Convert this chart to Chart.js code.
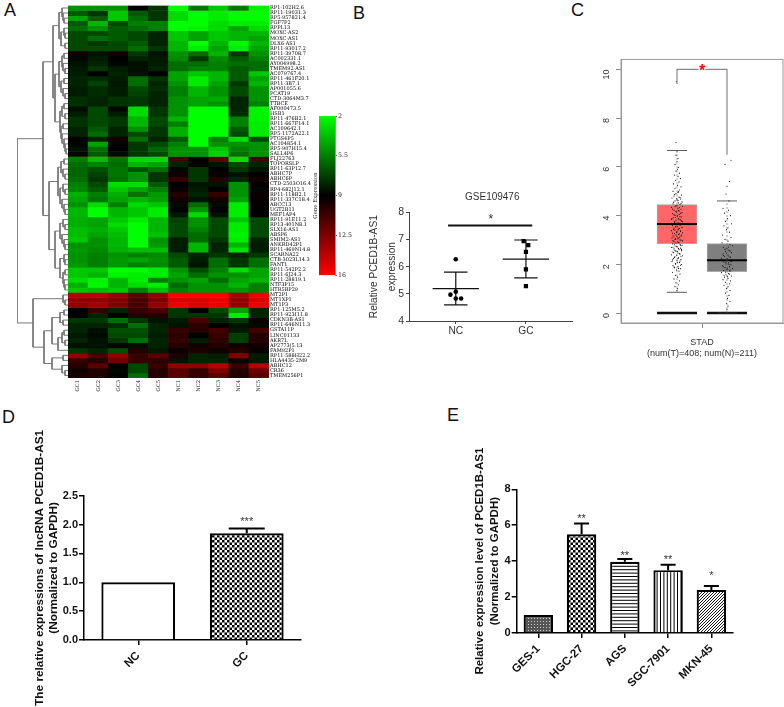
<!DOCTYPE html>
<html>
<head>
<meta charset="utf-8">
<script src="https://cdn.jsdelivr.net/npm/chart.js@4"></script>
<style>
  html, body { margin: 0; padding: 0; background: #fff; }
  body { position: relative; width: 784px; height: 707px; overflow: hidden; }
  canvas { position: absolute; }
  .letra { position: absolute; font: 18px/18px "Liberation Sans", sans-serif; color: #111; }
</style>
</head>
<body>
<div class="letra" style="left:4px;top:1px">A</div>
<div class="letra" style="left:353px;top:4px">B</div>
<div class="letra" style="left:571px;top:1px">C</div>
<div class="letra" style="left:2px;top:408px">D</div>
<div class="letra" style="left:447px;top:406px">E</div>
<script>
// panel A
const sampleLabels = ['GC1', 'GC2', 'GC3', 'GC4', 'GC5', 'NC1', 'NC2', 'NC3', 'NC4', 'NC5'];
const geneLabels = ['RP1-102H2.6', 'RP11-19031.3', 'RP5-957821.4', 'FGF7P2', 'RPPL13', 'MOXC-AS2', 'MOXC-AS1', 'DLX6-AS1',
  'RP11-93017.2', 'RP11-39708.7', 'AC002331.1', 'AY004998.2', 'TMEM92-AS1', 'AC079767.4', 'RP11-461F20.1', 'RP11-3B7.1',
  'AP001055.6', 'PCAT19', 'CTD-3064M3.7', 'TTBCE', 'AF000473.5', 'HSB1', 'RP11-476B2.1', 'RP11-667F14.1', 'AC109642.1',
  'RP5-1172A22.1', 'PTGS4P5', 'AC104854.1', 'RP5-907H15.4', 'SALL4P6', 'FLJ22763', 'TOPORSLP', 'RP11-63P12.7', 'ABHC7P',
  'ABHC6P', 'CTD-2503O16.4', 'RP4-682J12.1', 'RP11-118B2.1', 'RP11-337C18.4', 'ABCC13', 'UGT2B11', 'MEF1AP4',
  'RP11-91E11.2', 'RP13-401N8.1', 'SLX16-AS1', 'ABSP6', 'SMIM2-AS1', 'ANKRD42P1', 'RP11-469N14.8', 'SCARNA22',
  'CTB-3023L14.3', 'FANT1', 'RP11-542P2.2', 'RP11-6J24.3', 'RP11-28819.1', 'NTF3P15', 'HTR5BP29', 'MT2P1', 'MT1XP1',
  'MT1P3', 'RP1-125M5.2', 'RP11-923I11.8', 'CDKN3B-AS1', 'RP11-646N11.3', 'GSTA11P', 'LINC01133', 'AKR7L', 'AP2773|5.13',
  'FAM92P1', 'RP11-588H22.2', 'HLA4435-2M9', 'ABHC12', 'CR36', 'TMEM256P1'];
const expressionRows = [
  [5, 5, 5, 9, 7.6, 2, 5.7, 3.5, 5.7, 2.4], [6.5, 7.5, 3.5, 6.5, 7.5, 3, 2, 2.5, 2, 2], [4.5, 6.5, 3.5, 6, 7.5, 3, 2, 2.5, 2, 2],
  [6.5, 4, 7, 5.5, 5.5, 2, 2, 3, 2.5, 2.5], [6, 5, 6.5, 6, 5.5, 2, 2.3, 3, 4.5, 3], [7, 7, 6.5, 7, 8, 3.5, 4.5, 3.5, 4, 4],
  [7, 6, 6.5, 7, 8, 3.5, 4.5, 3.5, 4, 4.5], [7, 7.5, 7, 6.5, 8, 4, 2, 4, 2.2, 4], [7, 7, 7, 6, 7.5, 4, 2.5, 4.5, 2.5, 4.5],
  [9.5, 8.5, 9.6, 7.5, 8.5, 5, 6, 4, 7.5, 5], [8.8, 8.2, 9, 8, 8.3, 5.2, 7.5, 5.2, 6.5, 5.5], [8.5, 8, 8.8, 8.6, 8.2, 6, 6, 5.5, 6, 6],
  [8.3, 7.5, 8.2, 8.6, 8, 6, 5.5, 5.5, 6.5, 6], [8.2, 9, 8, 8.5, 9, 4.5, 3.5, 4, 6.5, 3.5], [8, 7.8, 8.2, 6, 7.6, 4.5, 2.5, 4, 6.5, 4.5],
  [8, 7.2, 8.3, 6, 8, 5, 2.5, 4.5, 7.5, 4], [8.2, 7.8, 8.2, 7, 7.8, 5.5, 4, 5, 7, 5], [8.2, 7.8, 8.2, 7.2, 8, 5.5, 4, 5, 7, 5],
  [7.7, 8, 7.6, 7.5, 8, 5, 4.5, 4.3, 8, 5], [7.7, 8, 7.6, 7.5, 8, 5, 4.5, 5, 8, 5.5], [8.6, 7, 8.8, 3, 7.5, 5, 2, 2, 8, 2.3],
  [8.2, 7, 8.2, 3, 7.5, 5, 2, 2, 7.8, 2.3], [7.6, 7, 7.5, 4, 7, 4, 2, 2, 5.5, 2.3], [7.6, 7, 7.5, 4, 7, 5.5, 2, 2, 5.5, 2.5],
  [8, 6.5, 8, 5, 7.5, 4.2, 2, 2, 6.5, 2.5], [8, 6, 8, 7, 7.5, 4.2, 2, 2, 7, 2.5], [9.2, 8, 9.5, 6, 8, 6.5, 2, 5.5, 3, 7],
  [8.8, 4.5, 9, 7.5, 7, 5.5, 2, 5, 5, 5], [8.5, 6, 9, 7.5, 6.2, 5, 5, 3.5, 5.5, 5], [8.8, 6.5, 8.7, 7.5, 7, 5, 5, 3.2, 6, 5],
  [5.5, 3.8, 5.8, 3, 3, 11, 9, 11.5, 3, 11], [6, 5.5, 6, 4, 4.5, 8, 9, 8.5, 7, 8], [6.2, 6.8, 5.8, 6.8, 6, 8.8, 7.5, 9, 7.5, 8.5],
  [6.2, 7.2, 5.8, 5, 7.5, 9.5, 7.5, 9.3, 8.5, 9], [6, 7.5, 6, 5, 7.5, 10.5, 7.5, 10, 8, 9.5], [5.5, 7, 3, 3, 6.5, 9, 8.5, 8.5, 5, 9],
  [5.3, 6.5, 3.5, 4.5, 5.5, 9.3, 8.2, 9, 5, 8.8], [4.2, 5.5, 4.2, 5.8, 4.8, 10, 8, 10.5, 5, 9.3], [4.5, 5.8, 4.5, 4, 4.6, 9.5, 8.5, 9.5, 4.5, 9.2],
  [5, 3, 5.5, 3, 3.5, 8.7, 6, 8.7, 2.5, 9], [4, 2, 4, 3.5, 2.5, 9, 5, 9, 2.5, 9], [4, 2, 4, 3.5, 2.5, 8.3, 3, 8.5, 2.5, 9],
  [4.2, 4.5, 3.5, 2.5, 4, 7.2, 5, 7, 3.5, 7], [4.2, 4.5, 3, 2, 4, 7, 5, 7, 2.5, 7], [3.8, 4.2, 3.5, 2, 4, 7, 5.5, 7, 2.5, 7],
  [3.8, 4.5, 3.8, 2, 3.7, 7, 6, 7, 2.3, 7], [3.5, 5, 4, 2, 5, 8.2, 6, 7.5, 2.5, 8], [5, 5, 4, 2, 4.8, 8.2, 4, 8, 4, 8.2],
  [4.8, 5.2, 4.2, 3.8, 3.8, 8.2, 4, 8, 2.8, 8.2], [5, 5.5, 5, 5.5, 5.2, 7, 8, 7.5, 8, 7.5], [5, 5.5, 4.8, 4.5, 5, 6.5, 8.2, 6, 7.5, 6],
  [4.8, 5.5, 4.8, 5.5, 5.2, 6.5, 8.5, 6, 7.5, 6], [3.5, 3.5, 2, 2, 2.5, 5, 7, 5.5, 3, 4.5], [3.5, 4, 2.3, 2.5, 2.5, 4.5, 6, 5, 5, 4.5],
  [3, 2.3, 4, 2.5, 5.5, 5, 4.5, 6, 4.5, 4], [4.2, 2.2, 4, 3, 2.5, 6, 5, 5, 4, 5.5], [3.5, 3.8, 3.5, 5.5, 3.8, 5.5, 5, 5, 5, 5.5],
  [14, 14, 13, 11.5, 13, 16, 16, 16, 13.5, 15.5], [13, 13, 12.5, 11, 12.5, 15, 15, 15.5, 13, 15], [13, 13.5, 12.5, 11, 13, 15.5, 15, 15.5, 13, 15.5],
  [9, 10.5, 8, 10.5, 11, 7.5, 9, 7, 4.5, 8], [9, 8, 9, 10, 10, 7.5, 7.5, 7.5, 2.5, 8], [7.5, 7.5, 6, 7.5, 8.5, 8.3, 11, 8, 7.5, 9.3],
  [8, 8, 7.8, 6, 8, 8.5, 10.2, 9, 8.5, 8.7], [8, 8.6, 6.8, 6.8, 8, 10.5, 10, 10.8, 8.3, 10.8], [8.3, 8.7, 7, 7, 8.2, 10.2, 9, 10.5, 7.3, 10],
  [8, 8.5, 7.5, 6, 8, 10.5, 8.2, 10.3, 7.3, 10], [8.5, 8.5, 8.8, 8.6, 8, 10, 9.5, 10, 9.5, 9.5], [7.5, 8, 6.8, 10, 8.3, 9.3, 9.8, 9.5, 10, 9.2],
  [13, 11, 13, 10.5, 11.5, 9.8, 8, 8.2, 12.5, 8.2], [10.5, 10, 12, 10.5, 10.2, 8.5, 8, 8, 9.3, 8.3], [10, 11.5, 9, 7, 10.5, 13, 13, 14, 10.5, 14],
  [9.5, 10, 8.8, 7, 10, 11.5, 10.5, 12.5, 10, 12], [9.7, 9.8, 9, 6, 10, 11.5, 10.5, 11.5, 9.8, 11.5]
];
// [altura, filho, filho]; folhas sao o indice da linha
const dendroTree = [51,
  [25,
    [15,
      [9, [6, 0, [5, 1, [4, 2, 3]]], [7, [4, 4, [3, 5, 6]], [3, 7, 8]]],
      [13,
        [9, [6, [4, 9, 10], [5, 11, [3, 12, 13]]], [7, [4, 14, 15], [5, 16, [3, 17, 18]]]],
        [8, [6, [4, 19, 20], [3, 21, 22]], [7, [5, 23, 24], [6, 25, [4, 26, [3, 27, [2, 28, 29]]]]]]]],
    [19,
      [10, [7, [4, 30, 31], [5, 32, [3, 33, 34]]], [8, [5, 35, [3, 36, 37]], [6, 38, [4, 39, [3, 40, 41]]]]],
      [13, [8, [5, 42, [3, 43, 44]], [6, 45, [4, 46, [3, 47, 48]]]], [8, [4, 49, [3, 50, 51]], [5, [3, 52, 53], [4, 54, [3, 55, 56]]]]]]],
  [35,
    [5, 57, [3, 58, 59]],
    [24,
      [16, [8, [4, 60, 61], [5, 62, 63]], [10, [6, [4, 64, 65], [3, 66, 67]], 68]],
      [16, [5, 69, 70], [6, 71, [3, 72, 73]]]]]];
const legendRange = [2, 16];
const legendTicks = [2, 5.5, 9, 12.5, 16];

// panel B
const gseCategories = ['NC', 'GC'];
const gseTicks = [4, 5, 6, 7, 8];
const gseNC = [[0, 6.27], [0, 5.08], [-0.076, 4.97], [0, 4.83], [0.076, 4.83]];
const gseGC = [[-0.033, 6.94], [0.033, 6.79], [0, 6.54], [0, 5.9], [0, 5.28]];
const gseMean = [5.19, 6.28];
const gseLow = [4.59, 5.59];
const gseHigh = [5.8, 6.98];
const gseSignificance = 7.51;

// panel C
const stadTicks = [0, 2, 4, 6, 8, 10];
const stadBoxLow = [2.85, 1.7];
const stadBoxHigh = [4.45, 2.85];
const stadMedian = [3.65, 2.17];
const stadWhiskerLow = [0.85, 0];
const stadWhiskerHigh = [6.67, 4.6];
const stadTumorDots = [[-.01, 9.5], [-.02, 7], [0, 6.62], [-.02, 6.48], [.02, 6.35], [0, 6.22], [-.04, 6.1], [.03, 5.98], [.01, 5.9], [-.02, 5.82],
  [.05, 5.74], [-.05, 5.66], [.02, 5.6], [.07, 5.52], [-.03, 5.45], [.04, 5.38], [-.07, 5.3], [.01, 5.24], [.08, 5.18], [-.04, 5.12], [.05, 5.05],
  [-.08, 5], [.02, 4.95], [-.02, 4.9], [.09, 4.84], [-.06, 4.8], [.04, 4.76], [-.1, 4.72], [.07, 4.68], [0, 4.64], [-.04, 4.6], [.1, 4.56], [.03, 4.52],
  [-.08, 4.48], [.06, 4.45], [-.02, 4.41], [.11, 4.38], [-.11, 4.34], [.02, 4.3], [.08, 4.26], [-.06, 4.22], [.04, 4.19], [-.01, 4.15], [.1, 4.12],
  [-.09, 4.08], [.05, 4.05], [-.04, 4.01], [.01, 3.98], [.09, 3.94], [-.07, 3.91], [.03, 3.88], [-.11, 3.85], [.07, 3.82], [-.02, 3.79], [.11, 3.75],
  [-.05, 3.72], [.04, 3.69], [.08, 3.62], [-.09, 3.59], [.01, 3.56], [-.03, 3.53], [.1, 3.5], [.05, 3.47], [-.07, 3.44], [.02, 3.41], [-.11, 3.38],
  [.07, 3.35], [-.01, 3.32], [.11, 3.29], [-.05, 3.26], [.03, 3.23], [.09, 3.2], [-.08, 3.17], [0, 3.14], [.05, 3.11], [-.1, 3.08], [.02, 3.05],
  [-.04, 3.02], [.08, 2.99], [.11, 2.96], [-.06, 2.93], [.03, 2.9], [-.02, 2.87], [-.09, 2.84], [.06, 2.81], [.1, 2.78], [-.04, 2.75], [.01, 2.72],
  [-.11, 2.69], [.07, 2.66], [-.06, 2.63], [.04, 2.6], [.09, 2.56], [-.02, 2.53], [-.08, 2.5], [.02, 2.46], [.06, 2.42], [-.11, 2.39], [.11, 2.35],
  [-.04, 2.31], [.03, 2.27], [-.07, 2.23], [.08, 2.19], [0, 2.15], [-.1, 2.11], [.05, 2.07], [-.03, 2.03], [.09, 1.99], [-.08, 1.95], [.02, 1.9],
  [-.05, 1.86], [.07, 1.82], [-.01, 1.77], [.04, 1.72], [-.09, 1.67], [.06, 1.6], [-.03, 1.54], [.01, 1.47], [-.06, 1.4], [.05, 1.32], [-.02, 1.24],
  [.03, 1.16], [-.04, 1.08], [.01, 1], [0, .92],
  [.03, 4.98], [-.05, 4.86], [.06, 4.74], [-.01, 4.7], [.02, 4.62], [-.07, 4.55], [.08, 4.49], [0, 4.43], [-.04, 4.37], [.05, 4.33], [-.09, 4.27],
  [.03, 4.21], [-.02, 4.17], [.07, 4.1], [-.06, 4.04], [.01, 4], [.06, 3.96], [-.03, 3.92], [-.1, 3.87], [.04, 3.83], [.09, 3.78], [-.05, 3.74],
  [.02, 3.7], [-.08, 3.66], [.06, 3.61], [-.02, 3.57], [.1, 3.52], [-.06, 3.49], [.03, 3.45], [-.04, 3.4], [.07, 3.37], [0, 3.33], [-.09, 3.28],
  [.05, 3.25], [-.02, 3.21], [.08, 3.16], [-.06, 3.12], [.02, 3.09], [-.03, 3.04], [.06, 3], [-.08, 2.97], [.01, 2.92], [.04, 2.88], [-.05, 2.83],
  [.07, 2.79], [-.01, 2.74], [-.08, 2.7], [.03, 2.65], [.09, 2.61], [-.04, 2.57], [.01, 2.52], [-.07, 2.48], [.05, 2.44], [-.01, 2.38], [.08, 2.33],
  [-.05, 2.28], [.02, 2.24], [-.09, 2.18], [.06, 2.13], [.01, 2.08], [-.03, 2.01], [.07, 1.96], [-.06, 1.89], [.03, 1.83]];
const stadNormalDots = [[.08, 6.27], [-.04, 6.1], [.05, 5.4], [0, 5.2], [-.02, 4.88], [.04, 4.6], [-.08, 4.3], [.03, 4.22], [-.05, 4.1], [.07, 4],
  [.01, 3.88], [-.03, 3.76], [.09, 3.66], [-.06, 3.58], [.02, 3.5], [-.01, 3.42], [.05, 3.32], [-.09, 3.2], [.08, 3.1], [-.04, 3.02], [.02, 2.95],
  [-.1, 2.88], [.06, 2.82], [.11, 2.76], [-.07, 2.7], [0, 2.64], [.04, 2.58], [-.03, 2.53], [.09, 2.48], [-.08, 2.43], [.02, 2.38], [-.05, 2.33], [.07, 2.29],
  [-.11, 2.25], [.01, 2.2], [.1, 2.14], [-.06, 2.1], [.03, 2.06], [-.02, 2.02], [.08, 1.98], [-.09, 1.94], [.05, 1.9], [-.04, 1.86], [.11, 1.82], [0, 1.78],
  [-.07, 1.74], [.06, 1.7], [-.11, 1.66], [.03, 1.62], [-.02, 1.57], [.09, 1.52], [-.05, 1.47], [.02, 1.42], [-.08, 1.37], [.07, 1.32], [-.03, 1.26],
  [.05, 1.2], [-.06, 1.14], [.02, 1.08], [-.01, 1], [.06, .92], [-.03, .82], [.04, .72], [.01, .6], [.06, .48], [-.01, .4], [.02, .28], [0, .14],
  [.03, 2.71], [-.04, 2.62], [.06, 2.55], [-.01, 2.46], [-.07, 2.36], [.04, 2.31], [0, 2.23], [-.05, 2.17], [.08, 2.12], [-.02, 2.08], [.04, 2],
  [-.07, 1.92], [.01, 1.84], [.06, 1.76], [-.03, 1.68], [.05, 1.6], [-.06, 1.55], [.01, 1.49]];
const stadBracketTop = 10;
const stadBracketLeftEnd = 9.4;
const stadBracketRightEnd = 6.5;

// panel D
const lncCategories = ['NC', 'GC'];
const lncValues = [1, 1.85];
const lncErrorTop = [null, 1.93];
const lncStars = [null, '***'];
const lncStarAt = [null, 2.08];

// panel E
const lineCategories = ['GES-1', 'HGC-27', 'AGS', 'SGC-7901', 'MKN-45'];
const lineValues = [1, 5.5, 3.97, 3.5, 2.4];
const lineErrorTop = [null, 6.1, 4.12, 3.8, 2.62];
const lineStars = [null, '**', '**', '**', '*'];
const lineStarAt = [null, 6.44, 4.4, 4.18, 3.28];

const SANS = '"Liberation Sans", Arial, sans-serif';
const SERIF = '"DejaVu Serif", serif';
Chart.defaults.animation = false;
Chart.defaults.events = [];
Chart.defaults.plugins.legend.display = false;
Chart.defaults.plugins.tooltip.enabled = false;
Chart.defaults.font.family = SANS;

function addCanvas(box) {
    const c = document.createElement('canvas');
    c.width = box.w;
    c.height = box.h;
    c.style.left = box.x + 'px';
    c.style.top = box.y + 'px';
    document.body.appendChild(c);
    return c;
}

// pins the plot area to page coordinates, whatever the ticks measure
function pinLayout(box, plot) {
    return {
        autoPadding: false,
        padding: {
            left: plot.leftPad || 0,
            right: plot.rightPad || 0,
            top: plot.t - box.y,
            bottom: plot.bottomPad || 0
        }
    };
}

// scales take their size from the pinned plot
const fitLeft = (box, plot) => s => { s.width = plot.l - box.x; };
const fitRight = (box, plot) => s => { s.width = box.x + box.w - plot.r; };
const fitBottom = (box, plot) => s => { s.height = box.y + box.h - plot.b; };

function segment(points, color, width, dash) {
    return {
        type: 'scatter',
        data: points.map(p => ({ x: p[0], y: p[1] })),
        showLine: true,
        pointRadius: 0,
        borderColor: color,
        borderWidth: width,
        borderDash: dash || [],
        order: 1
    };
}

// texts placed through the scales: items = [{x, y, text, font, color}]
const notesPlugin = {
    id: 'notes',
    afterDatasetsDraw(chart, args, opts) {
        const ctx = chart.ctx;
        (opts.items || []).forEach(it => {
            ctx.save();
            ctx.font = it.font;
            ctx.fillStyle = it.color;
            ctx.textAlign = 'center';
            ctx.textBaseline = 'middle';
            ctx.fillText(it.text, chart.scales.x.getPixelForValue(it.x), chart.scales.y.getPixelForValue(it.y) + (it.dy || 0));
            ctx.restore();
        });
    }
};

// upper error bars with cap, over bars
const errorPlugin = {
    id: 'errorBars',
    afterDatasetsDraw(chart, args, opts) {
        if (!opts.tops) return;
        const ctx = chart.ctx;
        const values = chart.data.datasets[0].data;
        ctx.save();
        ctx.strokeStyle = '#000';
        ctx.lineWidth = 2;
        opts.tops.forEach((top, i) => {
            if (top === null) return;
            const x = chart.scales.x.getPixelForValue(i);
            const y0 = chart.scales.y.getPixelForValue(values[i]);
            const y1 = chart.scales.y.getPixelForValue(top);
            ctx.beginPath();
            ctx.moveTo(x, y0);
            ctx.lineTo(x, y1);
            ctx.moveTo(x - opts.cap, y1);
            ctx.lineTo(x + opts.cap, y1);
            ctx.stroke();
        });
        ctx.restore();
    }
};

const framePlugin = {
    id: 'frame',
    afterDraw(chart, args, opts) {
        if (!opts.color) return;
        const a = chart.chartArea;
        chart.ctx.save();
        chart.ctx.strokeStyle = opts.color;
        chart.ctx.lineWidth = 1;
        chart.ctx.strokeRect(a.left, a.top, a.right - a.left, a.bottom - a.top);
        chart.ctx.restore();
    }
};
Chart.register(notesPlugin, errorPlugin, framePlugin);

function heatColor(v) {
    if (v <= 9) return `rgb(0,${Math.round((9 - v) / 7 * 255)},0)`;
    return `rgb(${Math.round((v - 9) / 7 * 255)},0,0)`;
}

// ---- A: dendrogram
function collectLinks(node, out) {
    if (typeof node === 'number') return { h: 0, y: node };
    const a = collectLinks(node[1], out);
    const b = collectLinks(node[2], out);
    out.push([[a.h, a.y], [node[0], a.y], [node[0], b.y], [b.h, b.y]]);
    return { h: node[0], y: (a.y + b.y) / 2 };
}
const dendroLinks = [];
collectLinks(dendroTree, dendroLinks);
const boxDendro = { x: 10, y: 0, w: 60, h: 385 };
const plotDendro = { l: 17, r: 68, t: 5.5, b: 378, leftPad: 7, rightPad: 2, bottomPad: 7 };
new Chart(addCanvas(boxDendro), {
    type: 'scatter',
    data: { datasets: dendroLinks.map(l => segment(l, '#777', 1)) },
    options: {
        responsive: false,
        layout: pinLayout(boxDendro, plotDendro),
        scales: {
            x: { display: false, type: 'linear', reverse: true, min: 0, max: 51 },
            y: { display: false, type: 'linear', reverse: true, min: -0.5, max: 73.5 }
        }
    }
});

// ---- A: heatmap
const boxHeat = { x: 68, y: 0, w: 245, h: 400 };
const plotHeat = { l: 68, r: 269, t: 5.5, b: 378 };
new Chart(addCanvas(boxHeat), {
    type: 'bar',
    data: {
        labels: sampleLabels,
        datasets: expressionRows.map(row => ({
            data: row.map(() => 1),
            backgroundColor: row.map(heatColor),
            barPercentage: 1,
            categoryPercentage: 1
        }))
    },
    options: {
        responsive: false,
        layout: pinLayout(boxHeat, plotHeat),
        scales: {
            x: {
                stacked: true,
                grid: { display: false, drawTicks: false },
                border: { display: false },
                afterFit: fitBottom(boxHeat, plotHeat),
                ticks: { minRotation: 90, maxRotation: 90, padding: 2, color: '#222', font: { family: SERIF, size: 5.2 } }
            },
            y: { display: false, stacked: true, reverse: true, min: 0, max: expressionRows.length },
            genes: {
                type: 'category',
                labels: geneLabels,
                position: 'right',
                offset: true,
                grid: { display: false, drawTicks: false },
                border: { display: false },
                afterFit: fitRight(boxHeat, plotHeat),
                ticks: { autoSkip: false, padding: 1, color: '#000', font: { family: SERIF, size: 5 } }
            }
        }
    }
});

// ---- A: colour key
const boxKey = { x: 312, y: 100, w: 50, h: 180 };
const plotKey = { l: 319, r: 335, t: 116, b: 268 };
new Chart(addCanvas(boxKey), {
    type: 'bar',
    data: {
        labels: ['key'],
        datasets: [{
            data: [legendRange],
            barPercentage: 1,
            categoryPercentage: 1,
            backgroundColor: ctx => {
                const a = ctx.chart.chartArea;
                if (!a) return '#000';
                const g = ctx.chart.ctx.createLinearGradient(0, a.top, 0, a.bottom);
                g.addColorStop(0, '#00ff00');
                g.addColorStop(0.5, '#000000');
                g.addColorStop(1, '#ff0000');
                return g;
            }
        }]
    },
    options: {
        responsive: false,
        layout: pinLayout(boxKey, plotKey),
        scales: {
            x: { display: false },
            y: {
                position: 'right',
                reverse: true,
                min: legendRange[0],
                max: legendRange[1],
                afterBuildTicks: s => { s.ticks = legendTicks.map(v => ({ value: v })); },
                afterFit: fitRight(boxKey, plotKey),
                grid: { drawOnChartArea: false, tickLength: 2, color: '#555' },
                border: { color: '#999' },
                ticks: { padding: 1, color: '#222', font: { family: SERIF, size: 6.3 }, callback: v => String(v) }
            },
            keyTitle: {
                position: 'left',
                type: 'linear',
                min: 0,
                max: 1,
                afterFit: fitLeft(boxKey, plotKey),
                grid: { display: false },
                border: { display: false },
                ticks: { display: false },
                title: { display: true, text: 'Gene Expression', color: '#222', padding: 0, font: { family: SERIF, size: 5.4 } }
            }
        }
    }
});

// ---- B
const boxGse = { x: 365, y: 185, w: 215, h: 160 };
const plotGse = { l: 409, r: 572.7, t: 212.3, b: 321, rightPad: 7.3 };
const axisGray = '#444';
const gseLines = [];
gseCategories.forEach((c, i) => {
    const x = i + 1;
    gseLines.push(segment([[x, gseLow[i]], [x, gseHigh[i]]], '#111', 1.2));
    gseLines.push(segment([[x - 0.167, gseLow[i]], [x + 0.167, gseLow[i]]], '#111', 1.2));
    gseLines.push(segment([[x - 0.167, gseHigh[i]], [x + 0.167, gseHigh[i]]], '#111', 1.2));
    gseLines.push(segment([[x - 0.33, gseMean[i]], [x + 0.33, gseMean[i]]], '#111', 1.2));
});
gseLines.push(segment([[0.89, gseSignificance], [2.09, gseSignificance]], '#111', 2));
new Chart(addCanvas(boxGse), {
    type: 'scatter',
    data: {
        datasets: [
            { data: gseNC.map(p => ({ x: 1 + p[0], y: p[1] })), pointStyle: 'circle', pointRadius: 2.3, backgroundColor: '#000', borderWidth: 0 },
            { data: gseGC.map(p => ({ x: 2 + p[0], y: p[1] })), pointStyle: 'rect', pointRadius: 3, backgroundColor: '#000', borderWidth: 0 }
        ].concat(gseLines)
    },
    options: {
        responsive: false,
        layout: pinLayout(boxGse, plotGse),
        plugins: {
            title: { display: false },
            notes: {
                items: [
                    { x: 1.5, y: gseSignificance, dy: -6, text: '*', font: '12px ' + SANS, color: '#333' },
                    { x: 1.52, y: 8, dy: -15, text: 'GSE109476', font: '10px ' + SANS, color: '#333' }
                ]
            }
        },
        scales: {
            x: {
                type: 'linear',
                min: 1 / 3,
                max: 8 / 3,
                afterBuildTicks: s => { s.ticks = [{ value: 1 }, { value: 2 }]; },
                afterFit: fitBottom(boxGse, plotGse),
                grid: { drawOnChartArea: false, tickLength: 3, color: axisGray },
                border: { color: axisGray, width: 1 },
                ticks: { padding: 1, color: '#333', font: { size: 10.2 }, callback: v => gseCategories[v - 1] }
            },
            y: {
                min: gseTicks[0],
                max: gseTicks[gseTicks.length - 1],
                afterBuildTicks: s => { s.ticks = gseTicks.map(v => ({ value: v })); },
                afterFit: fitLeft(boxGse, plotGse),
                grid: { drawOnChartArea: false, tickLength: 3, color: axisGray },
                border: { color: axisGray, width: 1 },
                ticks: { padding: 2, color: '#333', font: { size: 10.5 } },
                title: { display: true, text: ['Relative PCED1B-AS1', 'expression'], color: '#333', padding: 0, font: { size: 10.2, lineHeight: 1.75 } }
            }
        }
    }
});

// ---- C
const boxStad = { x: 590, y: 45, w: 194, h: 315 };
const plotStad = { l: 621, r: 783, t: 53, b: 323, rightPad: 1 };
const grayC = '#888';
const stadX = [1, 2];
const stadLines = [];
stadX.forEach((x, i) => {
    stadLines.push(segment([[x, stadWhiskerLow[i]], [x, stadWhiskerHigh[i]]], '#666', 0.6, [2, 2]));
    stadLines.push(segment([[x - 0.2, stadWhiskerLow[i]], [x + 0.2, stadWhiskerLow[i]]], '#333', 0.8));
    stadLines.push(segment([[x - 0.2, stadWhiskerHigh[i]], [x + 0.2, stadWhiskerHigh[i]]], '#333', 0.8));
    stadLines.push(segment([[x - 0.4, stadMedian[i]], [x + 0.4, stadMedian[i]]], '#000', 2));
    stadLines.push(segment([[x - 0.4, 0], [x + 0.4, 0]], '#111', 2.5));
});
stadLines.push(segment([[1, stadBracketLeftEnd], [1, stadBracketTop], [1.43, stadBracketTop]], grayC, 1.2));
stadLines.push(segment([[1.57, stadBracketTop], [2, stadBracketTop], [2, stadBracketRightEnd]], grayC, 1.2));
new Chart(addCanvas(boxStad), {
    type: 'scatter',
    data: {
        datasets: [
            {
                type: 'bar',
                data: stadX.map((x, i) => ({ x: x, y: [stadBoxLow[i], stadBoxHigh[i]] })),
                backgroundColor: ['#ff6666', '#7f7f7f'],
                borderColor: '#aaa',
                borderWidth: 1,
                borderSkipped: false,
                barThickness: 40,
                order: 5
            },
            { data: stadTumorDots.map(p => ({ x: 1 + p[0], y: p[1] })), pointRadius: 0.6, backgroundColor: '#111', borderWidth: 0, order: 3 },
            { data: stadNormalDots.map(p => ({ x: 2 + p[0], y: p[1] })), pointRadius: 0.6, backgroundColor: '#111', borderWidth: 0, order: 3 }
        ].concat(stadLines)
    },
    options: {
        responsive: false,
        layout: pinLayout(boxStad, plotStad),
        plugins: {
            frame: { color: '#999' },
            notes: { items: [{ x: 1.5, y: stadBracketTop, dy: 2, text: '*', font: 'bold 16px ' + SANS, color: '#f00' }] }
        },
        scales: {
            x: {
                type: 'linear',
                offset: false,
                min: -0.12,
                max: 3.12,
                afterBuildTicks: s => { s.ticks = [{ value: 1.5 }]; },
                afterFit: fitBottom(boxStad, plotStad),
                grid: { drawOnChartArea: false, offset: false, tickLength: 5, color: grayC },
                border: { color: '#999' },
                ticks: { padding: 9, color: '#333', font: { size: 9 }, callback: () => ['STAD', '(num(T)=408; num(N)=211)'] }
            },
            y: {
                min: -0.41,
                max: 10.41,
                afterBuildTicks: s => { s.ticks = stadTicks.map(v => ({ value: v })); },
                afterFit: fitLeft(boxStad, plotStad),
                grid: { drawOnChartArea: false, tickLength: 5, color: grayC },
                border: { color: '#999' },
                ticks: { minRotation: 90, maxRotation: 90, padding: 9, color: '#333', font: { size: 9 } }
            }
        }
    }
});

// ---- D and E patterns
function makePattern(kind) {
    const size = { dense: 3, checker: 5, hlines: 3.4, vlines: 3.4, diag: 3 }[kind];
    const c = document.createElement('canvas');
    c.width = kind === 'vlines' ? 17 : (kind === 'hlines' ? 4 : size);
    c.height = kind === 'hlines' ? 17 : (kind === 'vlines' ? 4 : size);
    const p = c.getContext('2d');
    p.fillStyle = '#fff';
    p.fillRect(0, 0, c.width, c.height);
    p.fillStyle = '#000';
    p.strokeStyle = '#000';
    if (kind === 'checker') {
        p.fillRect(0, 0, 2.5, 2.5);
        p.fillRect(2.5, 2.5, 2.5, 2.5);
    } else if (kind === 'dense') {
        p.fillStyle = '#555';
        p.fillRect(0, 0, 3, 3);
        p.fillStyle = '#ccc';
        p.fillRect(1, 1, 1, 1);
    } else if (kind === 'hlines') {
        for (let i = 0; i < 5; i++) p.fillRect(0, i * 3.4, 4, 1);
    } else if (kind === 'vlines') {
        for (let i = 0; i < 5; i++) p.fillRect(i * 3.4, 0, 1, 4);
    } else {
        p.lineWidth = 0.9;
        p.beginPath();
        p.moveTo(-1, 1); p.lineTo(1, -1);
        p.moveTo(0, 3); p.lineTo(3, 0);
        p.moveTo(2, 4); p.lineTo(4, 2);
        p.stroke();
    }
    return document.createElement('canvas').getContext('2d').createPattern(c, 'repeat');
}

function barPanel(box, plot, categories, values, fills, tops, cap, stars, starAt, yMax, yStep, yFormat, yTitle, titleSize) {
    const notes = [];
    stars.forEach((s, i) => {
        if (s) notes.push({ x: i, y: starAt[i], text: s, font: '11px ' + SANS, color: '#333', dy: 2 });
    });
    const yTicks = [];
    for (let k = 0; k * yStep <= yMax + 1e-9; k++) yTicks.push(k * yStep);
    new Chart(addCanvas(box), {
        type: 'bar',
        data: {
            labels: categories,
            datasets: [{
                data: values,
                backgroundColor: fills,
                borderColor: '#000',
                borderWidth: 2.2,
                borderSkipped: 'bottom',
                barPercentage: 0.68,
                categoryPercentage: 1
            }]
        },
        options: {
            responsive: false,
            layout: pinLayout(box, plot),
            plugins: { errorBars: { tops: tops, cap: cap }, notes: { items: notes } },
            scales: {
                x: {
                    afterFit: fitBottom(box, plot),
                    grid: { drawOnChartArea: false, offset: false, tickLength: 5, lineWidth: 1.5, color: '#000' },
                    border: { color: '#000', width: 1.5 },
                    ticks: { minRotation: 45, maxRotation: 45, padding: 4, color: '#111', font: { size: 11.5, weight: 'bold' } }
                },
                y: {
                    min: 0,
                    max: yMax,
                    afterBuildTicks: s => { s.ticks = yTicks.map(v => ({ value: v })); },
                    afterFit: fitLeft(box, plot),
                    grid: { drawOnChartArea: false, tickLength: 5, lineWidth: 1.5, color: '#000' },
                    border: { color: '#000', width: 1.5 },
                    ticks: { padding: 1, color: '#111', font: { size: 11, weight: 'bold' }, callback: yFormat },
                    title: { display: true, text: yTitle, color: '#111', padding: 0, font: { size: titleSize, weight: 'bold', lineHeight: 1.25 } }
                }
            }
        }
    });
}

// ---- D
barPanel({ x: 32, y: 425, w: 280, h: 282 }, { l: 84, r: 301, t: 495.7, b: 640, rightPad: 11 }, lncCategories, lncValues,
    ['#fff', makePattern('checker')], lncErrorTop, 18, lncStars, lncStarAt, 2.5, 0.5, v => v.toFixed(1),
    ['The relative expressions of lncRNA PCED1B-AS1', '(Normalized to GAPDH)'], 11.8);

// ---- E
barPanel({ x: 473, y: 440, w: 270, h: 250 }, { l: 516.7, r: 733, t: 489.3, b: 633, rightPad: 10 }, lineCategories, lineValues,
    [makePattern('dense'), makePattern('checker'), makePattern('hlines'), makePattern('vlines'), makePattern('diag')],
    lineErrorTop, 7.5, lineStars, lineStarAt, 8, 2, v => String(v),
    ['Relative expression level of PCED1B-AS1', '(Normalized to GAPDH)'], 11.5);
</script>
</body>
</html>
